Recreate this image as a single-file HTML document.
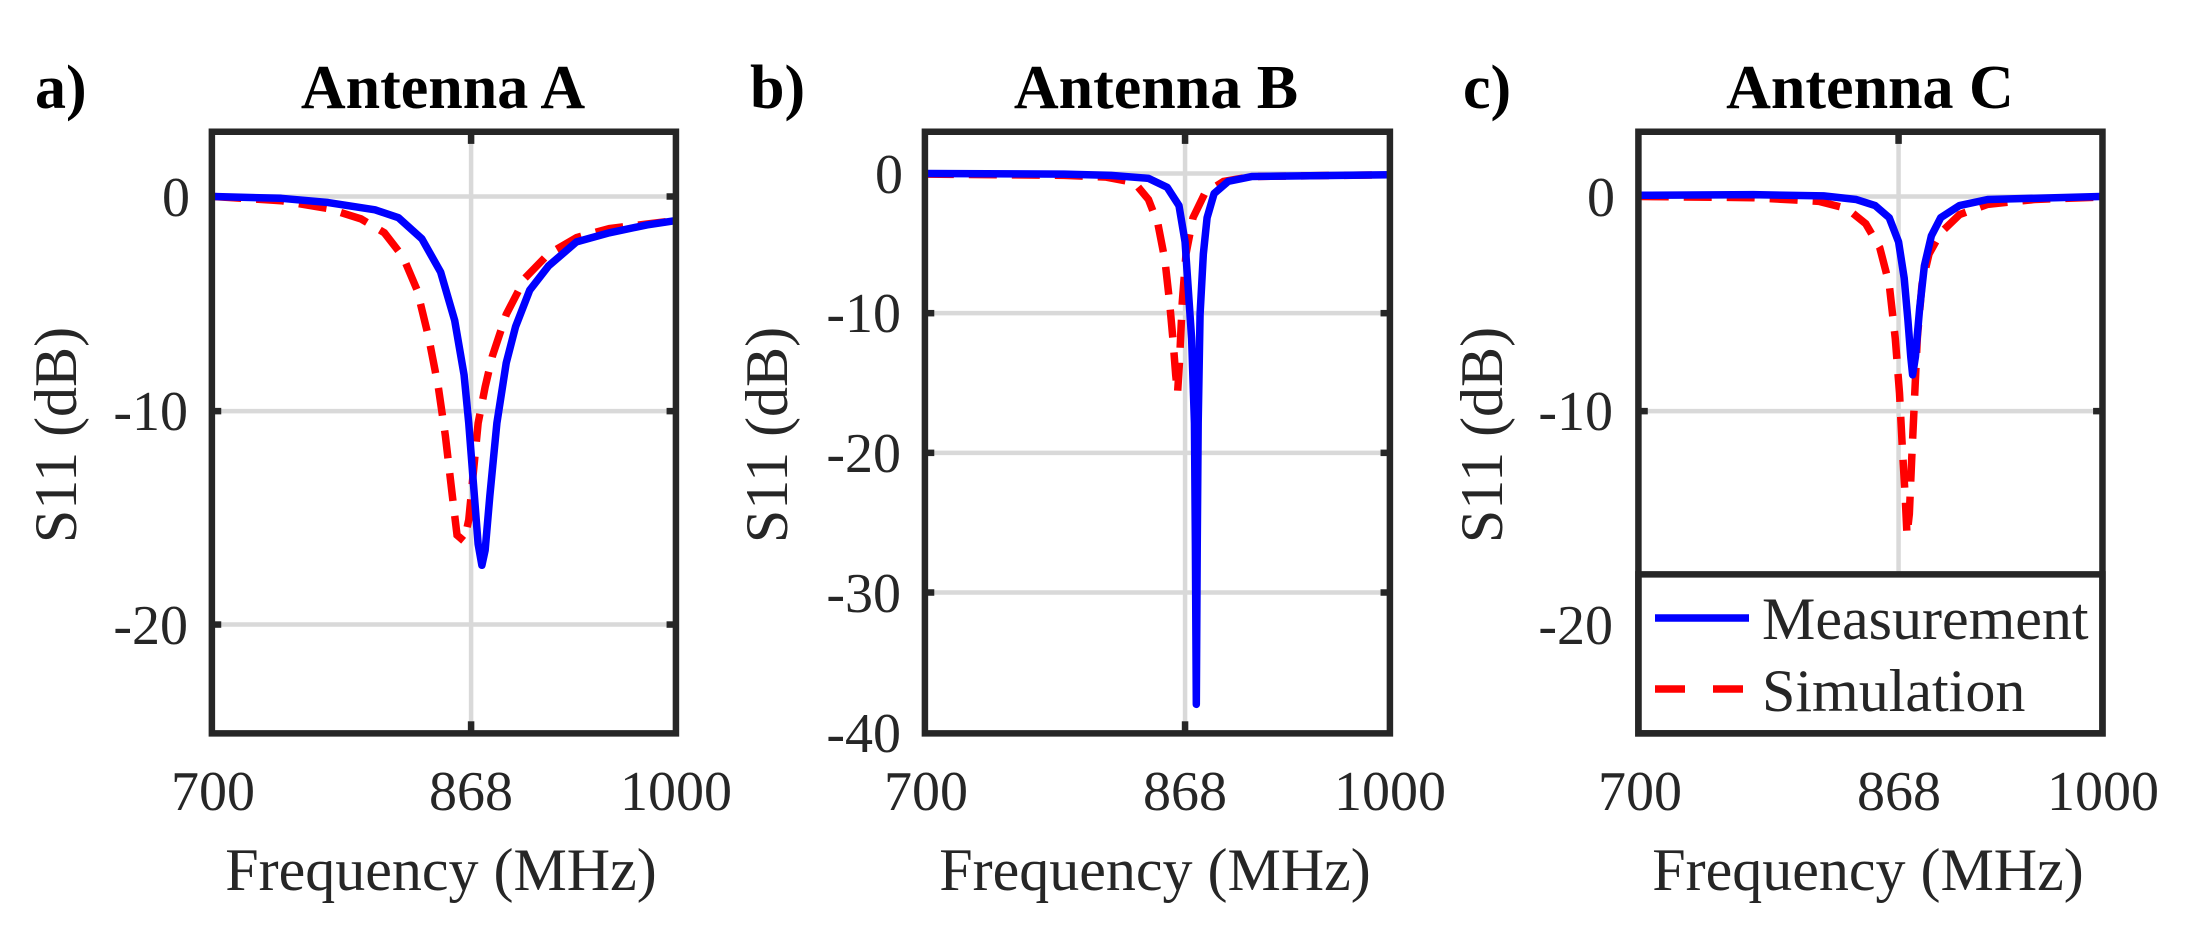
<!DOCTYPE html>
<html><head><meta charset="utf-8"><style>
html,body{margin:0;padding:0;background:#fff;width:2208px;height:948px;overflow:hidden}
svg{position:absolute;top:0;left:0}
text{font-family:"Liberation Serif",serif;fill:#262626;font-size:56px}
.l{font-size:60px}
.b{font-weight:bold;font-size:62px;fill:#000}
.g{stroke:#d9d9d9;stroke-width:4.5;fill:none}
.box{stroke:#262626;stroke-width:6.5;fill:none}
.m{stroke:#0000ff;stroke-width:7.5;fill:none;stroke-linejoin:round}
.s{stroke:#ff0000;stroke-width:7.5;fill:none;stroke-dasharray:28 15}
.k{stroke:#262626;stroke-width:6.5}
line,polyline,rect{vector-effect:non-scaling-stroke}
</style></head><body>
<svg width="2208" height="948" viewBox="0 0 2208 948">
<!-- Panel A -->
<g transform="scale(0.46875,0.6046)">
<line class="g" x1="452" y1="325" x2="1442" y2="325"/><line class="g" x1="452" y1="680" x2="1442" y2="680"/><line class="g" x1="452" y1="1033" x2="1442" y2="1033"/><line class="g" x1="1005" y1="218" x2="1005" y2="1213"/>
<g class="k"><line x1="452" y1="325" x2="472" y2="325"/><line x1="1422" y1="325" x2="1442" y2="325"/><line x1="452" y1="680" x2="472" y2="680"/><line x1="1422" y1="680" x2="1442" y2="680"/><line x1="452" y1="1033" x2="472" y2="1033"/><line x1="1422" y1="1033" x2="1442" y2="1033"/><line x1="1005" y1="218" x2="1005" y2="238"/><line x1="1005" y1="1193" x2="1005" y2="1213"/></g>
<polyline class="s" points="455,325 600,332 700,345 770,362 820,385 860,425 890,480 915,560 935,640 950,720 965,820 975,885 990,895 1000,860 1010,780 1020,700 1035,640 1050,590 1080,520 1120,460 1170,420 1230,393 1300,378 1440,365"/>
<polyline class="m" points="455,325 600,328 700,335 800,347 850,360 900,395 940,450 970,530 990,620 1000,700 1010,800 1020,900 1028,935 1035,910 1045,820 1060,700 1080,600 1100,540 1130,480 1170,440 1230,400 1300,385 1380,372 1440,365"/>
<rect class="box" x="452" y="218" width="990" height="995"/>
</g>
<text x="190" y="216" text-anchor="end">0</text><text x="188" y="430" text-anchor="end">-10</text><text x="188" y="644" text-anchor="end">-20</text>
<text x="213" y="810" text-anchor="middle">700</text><text x="471" y="810" text-anchor="middle">868</text><text x="676" y="810" text-anchor="middle">1000</text>
<text class="l" x="441" y="890" text-anchor="middle">Frequency (MHz)</text>
<text class="l" transform="translate(76,435) rotate(-90)" text-anchor="middle">S11 (dB)</text>
<text class="b" x="443" y="108" text-anchor="middle">Antenna A</text><text class="b" x="35" y="108">a)</text>

<!-- Panel B -->
<g transform="translate(736,0) scale(0.46875,0.6046)">
<line class="g" x1="403" y1="287" x2="1395" y2="287"/><line class="g" x1="403" y1="518" x2="1395" y2="518"/><line class="g" x1="403" y1="749" x2="1395" y2="749"/><line class="g" x1="403" y1="980" x2="1395" y2="980"/><line class="g" x1="958" y1="218" x2="958" y2="1213"/>
<g class="k"><line x1="403" y1="518" x2="423" y2="518"/><line x1="1375" y1="518" x2="1395" y2="518"/><line x1="403" y1="749" x2="423" y2="749"/><line x1="1375" y1="749" x2="1395" y2="749"/><line x1="403" y1="980" x2="423" y2="980"/><line x1="1375" y1="980" x2="1395" y2="980"/><line x1="958" y1="218" x2="958" y2="238"/><line x1="958" y1="1193" x2="958" y2="1213"/></g>
<polyline class="s" points="405,288 700,290 790,293 850,302 880,330 900,370 915,430 925,500 932,560 938,620 942,650 946,600 952,500 960,420 975,360 1000,320 1040,300 1100,292 1395,289"/>
<polyline class="m" points="405,287 700,288 800,290 880,295 920,310 945,340 958,400 965,480 972,560 978,700 980,900 982,1165 984,900 986,700 990,520 997,420 1005,360 1020,320 1050,300 1100,292 1395,289"/>
<rect class="box" x="403" y="218" width="992" height="995"/>
</g>
<text x="903" y="193" text-anchor="end">0</text><text x="901" y="332" text-anchor="end">-10</text><text x="901" y="472" text-anchor="end">-20</text><text x="901" y="612" text-anchor="end">-30</text><text x="901" y="752" text-anchor="end">-40</text>
<text x="926" y="810" text-anchor="middle">700</text><text x="1185" y="810" text-anchor="middle">868</text><text x="1390" y="810" text-anchor="middle">1000</text>
<text class="l" x="1155" y="890" text-anchor="middle">Frequency (MHz)</text>
<text class="l" transform="translate(787,435) rotate(-90)" text-anchor="middle">S11 (dB)</text>
<text class="b" x="1156" y="108" text-anchor="middle">Antenna B</text><text class="b" x="750" y="108">b)</text>

<!-- Panel C -->
<g transform="translate(1472,0) scale(0.46875,0.6046)">
<line class="g" x1="355" y1="325" x2="1345" y2="325"/><line class="g" x1="355" y1="680" x2="1345" y2="680"/><line class="g" x1="910" y1="218" x2="910" y2="950"/>
<g class="k"><line x1="355" y1="325" x2="375" y2="325"/><line x1="1325" y1="325" x2="1345" y2="325"/><line x1="355" y1="680" x2="375" y2="680"/><line x1="1325" y1="680" x2="1345" y2="680"/><line x1="910" y1="218" x2="910" y2="238"/></g>
<polyline class="s" points="360,325 600,327 740,333 800,345 840,370 870,410 890,470 903,560 912,650 918,740 924,820 928,885 933,850 938,760 944,660 950,560 960,470 975,420 1000,385 1040,355 1100,338 1200,330 1340,326"/>
<polyline class="m" points="360,323 600,322 750,324 820,330 860,340 890,360 910,400 922,460 930,530 936,590 940,620 946,590 955,510 965,440 980,390 1000,360 1040,340 1100,330 1340,325"/>
<rect x="355" y="950" width="990" height="263" class="box" style="fill:#fff"/>
<rect class="box" x="355" y="218" width="990" height="995"/>
</g>
<line x1="1655" y1="618" x2="1749" y2="618" stroke="#0000ff" stroke-width="7.5"/>
<line x1="1655" y1="689" x2="1744" y2="689" stroke="#ff0000" stroke-width="7.5" stroke-dasharray="30 28"/>
<text x="1762" y="639" style="font-size:60px">Measurement</text><text x="1762" y="711" style="font-size:60px">Simulation</text>
<text x="1615" y="216" text-anchor="end">0</text><text x="1613" y="430" text-anchor="end">-10</text><text x="1613" y="644" text-anchor="end">-20</text>
<text x="1640" y="810" text-anchor="middle">700</text><text x="1899" y="810" text-anchor="middle">868</text><text x="2103" y="810" text-anchor="middle">1000</text>
<text class="l" x="1868" y="890" text-anchor="middle">Frequency (MHz)</text>
<text class="l" transform="translate(1502,435) rotate(-90)" text-anchor="middle">S11 (dB)</text>
<text class="b" x="1870" y="108" text-anchor="middle">Antenna C</text><text class="b" x="1463" y="108">c)</text>
</svg>
</body></html>
